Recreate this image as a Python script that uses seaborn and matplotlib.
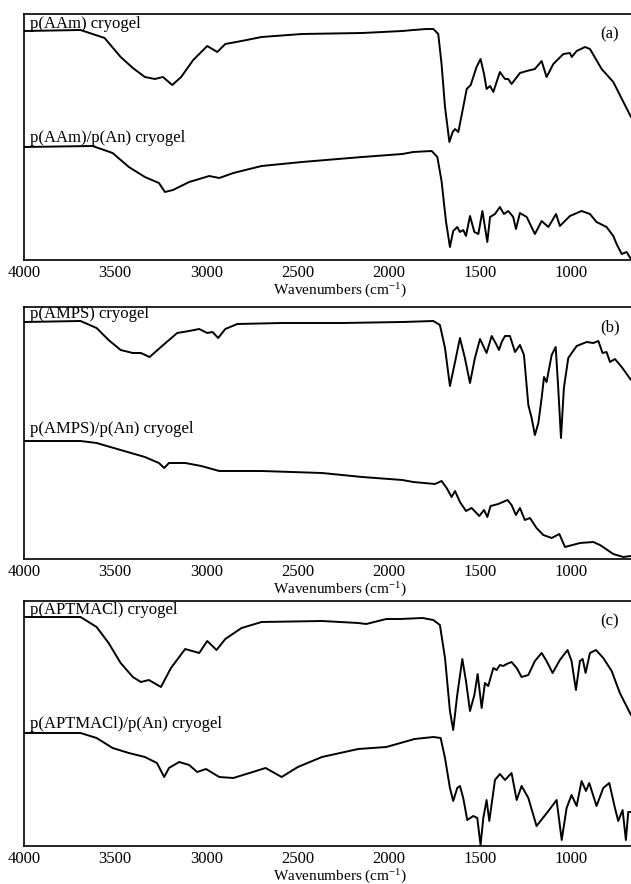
import numpy as np
import pandas as pd
import matplotlib
matplotlib.use('Agg')
import matplotlib.pyplot as plt
import seaborn as sns

# ── Data ──────────────────────────────────────────────────────────────────────
# wavenumber (cm-1) and transmittance in arbitrary units per panel
AAM_WN = [4000, 3690, 3558, 3470, 3403, 3337, 3282, 3238, 3187, 3138,
          3072, 2995, 2940, 2896, 2807, 2697, 2476, 2145, 1925, 1865,
          1792, 1755, 1728, 1710, 1691, 1667, 1649, 1636, 1618, 1591,
          1572, 1550, 1518, 1496, 1477, 1463, 1444, 1426, 1390, 1362,
          1344, 1326, 1280, 1243, 1198, 1161, 1134, 1097, 1042, 1006,
          996, 969, 923, 896, 832, 768, 671]
AAM_T = [229, 230, 222, 203, 192, 183, 181, 183, 175, 183,
         200, 214, 208, 216, 219, 223, 226, 227, 229, 230,
         231, 231, 226, 196, 153, 118, 128, 131, 128, 153,
         171, 175, 193, 201, 186, 171, 174, 168, 188, 181,
         181, 176, 187, 189, 191, 199, 183, 196, 206, 207,
         203, 209, 213, 211, 191, 178, 143]

AAM_AN_WN = [4000, 3624, 3514, 3425, 3337, 3260, 3227, 3183, 3094, 2984,
             2929, 2852, 2697, 2476, 2145, 1925, 1865, 1764, 1733, 1710,
             1686, 1664, 1646, 1624, 1609, 1591, 1576, 1554, 1530, 1508,
             1486, 1472, 1459, 1444, 1417, 1390, 1368, 1344, 1317, 1302,
             1280, 1243, 1198, 1161, 1124, 1082, 1061, 1006, 942, 896,
             860, 805, 768, 750, 722, 695, 671]
AAM_AN_T = [113, 114, 107, 93, 83, 77, 68, 70, 78, 84,
            82, 87, 94, 98, 103, 106, 108, 109, 103, 79,
            39, 13, 29, 33, 28, 30, 24, 44, 28, 26,
            49, 33, 18, 43, 46, 53, 46, 49, 43, 31,
            47, 43, 26, 39, 33, 46, 34, 44, 49, 46,
            38, 33, 24, 16, 6, 8, 1]

AMPS_WN = [4000, 3690, 3602, 3536, 3470, 3403, 3359, 3311, 3249, 3160,
           3094, 3039, 2995, 2966, 2935, 2896, 2830, 2587, 2256, 1925,
           1755, 1719, 1691, 1664, 1636, 1609, 1582, 1554, 1527, 1499,
           1463, 1435, 1408, 1395, 1380, 1362, 1335, 1307, 1280, 1258,
           1234, 1216, 1198, 1179, 1161, 1148, 1134, 1106, 1084, 1070,
           1055, 1039, 1015, 969, 914, 878, 850, 827, 805, 786,
           759, 722, 671]
AMPS_T = [237, 238, 231, 219, 209, 206, 206, 202, 212, 226,
          228, 230, 226, 227, 221, 230, 235, 236, 236, 237,
          238, 234, 211, 173, 197, 221, 201, 176, 201, 220,
          206, 223, 214, 209, 217, 223, 223, 207, 214, 204,
          154, 141, 124, 136, 161, 182, 177, 204, 212, 171,
          121, 171, 201, 213, 217, 216, 218, 206, 207, 197,
          200, 192, 179]

AMPS_AN_WN = [4000, 3690, 3602, 3470, 3337, 3260, 3231, 3205, 3116, 3028,
              2929, 2697, 2366, 2145, 1925, 1865, 1746, 1710, 1682, 1655,
              1636, 1609, 1576, 1545, 1503, 1477, 1459, 1441, 1399, 1348,
              1326, 1302, 1280, 1253, 1225, 1189, 1152, 1106, 1064, 1033,
              951, 878, 841, 768, 713, 671]
AMPS_AN_T = [118, 118, 116, 109, 102, 96, 91, 96, 96, 93,
             88, 88, 86, 82, 79, 77, 75, 78, 71, 62,
             68, 57, 48, 51, 43, 49, 42, 53, 55, 59,
             54, 44, 51, 39, 41, 31, 24, 21, 25, 12,
             16, 17, 14, 5, 2, 3]

APT_WN = [4000, 3690, 3602, 3536, 3470, 3403, 3359, 3315, 3249, 3194,
          3116, 3039, 2995, 2944, 2896, 2807, 2697, 2366, 2167, 2123,
          2013, 1938, 1814, 1755, 1719, 1691, 1664, 1646, 1624, 1596,
          1576, 1554, 1530, 1512, 1490, 1472, 1454, 1426, 1408, 1390,
          1371, 1353, 1326, 1298, 1271, 1234, 1198, 1161, 1134, 1101,
          1061, 1019, 997, 973, 951, 936, 920, 896, 863, 823,
          777, 732, 671]
APT_T = [229, 229, 219, 203, 183, 169, 164, 166, 159, 178,
         197, 193, 205, 196, 207, 218, 224, 225, 223, 222,
         227, 227, 228, 226, 221, 188, 135, 116, 151, 187,
         165, 135, 151, 172, 138, 163, 160, 178, 176, 181,
         180, 182, 184, 178, 169, 171, 185, 193, 185, 173,
         186, 196, 185, 156, 185, 187, 173, 193, 196, 188,
         175, 153, 131]

APT_AN_WN = [4000, 3690, 3602, 3514, 3425, 3337, 3271, 3231, 3205, 3149,
             3094, 3050, 3002, 2929, 2852, 2763, 2675, 2587, 2498, 2366,
             2167, 2013, 1858, 1755, 1715, 1691, 1664, 1646, 1624, 1609,
             1591, 1569, 1536, 1514, 1496, 1481, 1463, 1448, 1417, 1390,
             1362, 1326, 1298, 1271, 1234, 1189, 1124, 1079, 1051, 1024,
             997, 969, 942, 918, 900, 860, 823, 790, 759, 741,
             717, 699, 686, 671]
APT_AN_T = [113, 113, 108, 98, 93, 89, 83, 69, 78, 84,
            81, 74, 77, 69, 68, 73, 78, 69, 79, 89,
            97, 99, 107, 109, 108, 88, 58, 45, 58, 60,
            48, 26, 30, 28, 1, 28, 46, 25, 66, 72,
            66, 73, 46, 60, 48, 20, 35, 46, 6, 38,
            51, 40, 65, 55, 63, 40, 58, 63, 38, 25,
            36, 6, 34, 34]

XTICKS = [4000, 3500, 3000, 2500, 2000, 1500, 1000]

# label offset = gap (px) between label baseline and start of its curve
PANELS = [
    {'tag': '(a)', 'ymax': 246,
     'series': [('p(AAm) cryogel', AAM_WN, AAM_T, 3.5),
                ('p(AAm)/p(An) cryogel', AAM_AN_WN, AAM_AN_T, 5)]},
    {'tag': '(b)', 'ymax': 252,
     'series': [('p(AMPS) cryogel', AMPS_WN, AMPS_T, 3.5),
                ('p(AMPS)/p(An) cryogel', AMPS_AN_WN, AMPS_AN_T, 8)]},
    {'tag': '(c)', 'ymax': 245,
     'series': [('p(APTMACl) cryogel', APT_WN, APT_T, 3.5),
                ('p(APTMACl)/p(An) cryogel', APT_AN_WN, APT_AN_T, 5)]},
]

# axes rectangles in pixels: (top, bottom) of the 631x884 figure
BOXES = [(14, 260), (307, 559), (601, 846)]

# ── Style ─────────────────────────────────────────────────────────────────────
sns.set_style('white')
plt.rcParams['font.family'] = ['Liberation Serif', 'DejaVu Serif']
plt.rcParams['mathtext.fontset'] = 'stix'

W, H = 631, 884
fig = plt.figure(figsize=(W / 100, H / 100), dpi=100)
fig.patch.set_facecolor('white')

# right spine lies just past the figure edge, as in the cropped original
left_px, right_px = 24, 656
px_per_wn = 547 / 3000.0
x_right = 4000 - (right_px - left_px) / px_per_wn

for panel, (top, bot) in zip(PANELS, BOXES):
    ax = fig.add_axes([left_px / W, 1 - bot / H,
                       (right_px - left_px) / W, (bot - top) / H])
    ax.set_facecolor('white')
    for label, wn, t, gap in panel['series']:
        df = pd.DataFrame({'wn': wn, 't': t})
        sns.lineplot(data=df, x='wn', y='t', ax=ax, sort=False,
                     color='black', lw=1.4)
        ax.text(3967, t[0] + gap, label, fontsize=12, va='baseline',
                ha='left', color='black')

    ax.set_xlim(4000, x_right)
    ax.set_ylim(0, panel['ymax'])
    ax.set_xticks(XTICKS)
    ax.set_xticklabels([str(v) for v in XTICKS])
    ax.set_yticks([])
    ax.tick_params(axis='x', length=0, pad=3.5, labelsize=12, colors='black')
    ax.set_xlabel('Wavenumbers (cm$^{\\mathregular{-1}}$)', fontsize=11,
                  labelpad=-0.5, color='black')
    ax.set_ylabel('')
    for s in ax.spines.values():
        s.set_color('black')
        s.set_linewidth(1.2)
    fig.text(610 / W, 1 - (top + 20) / H, panel['tag'], fontsize=12,
             ha='center', va='center', color='black')

fig.savefig('out.png', dpi=100)
